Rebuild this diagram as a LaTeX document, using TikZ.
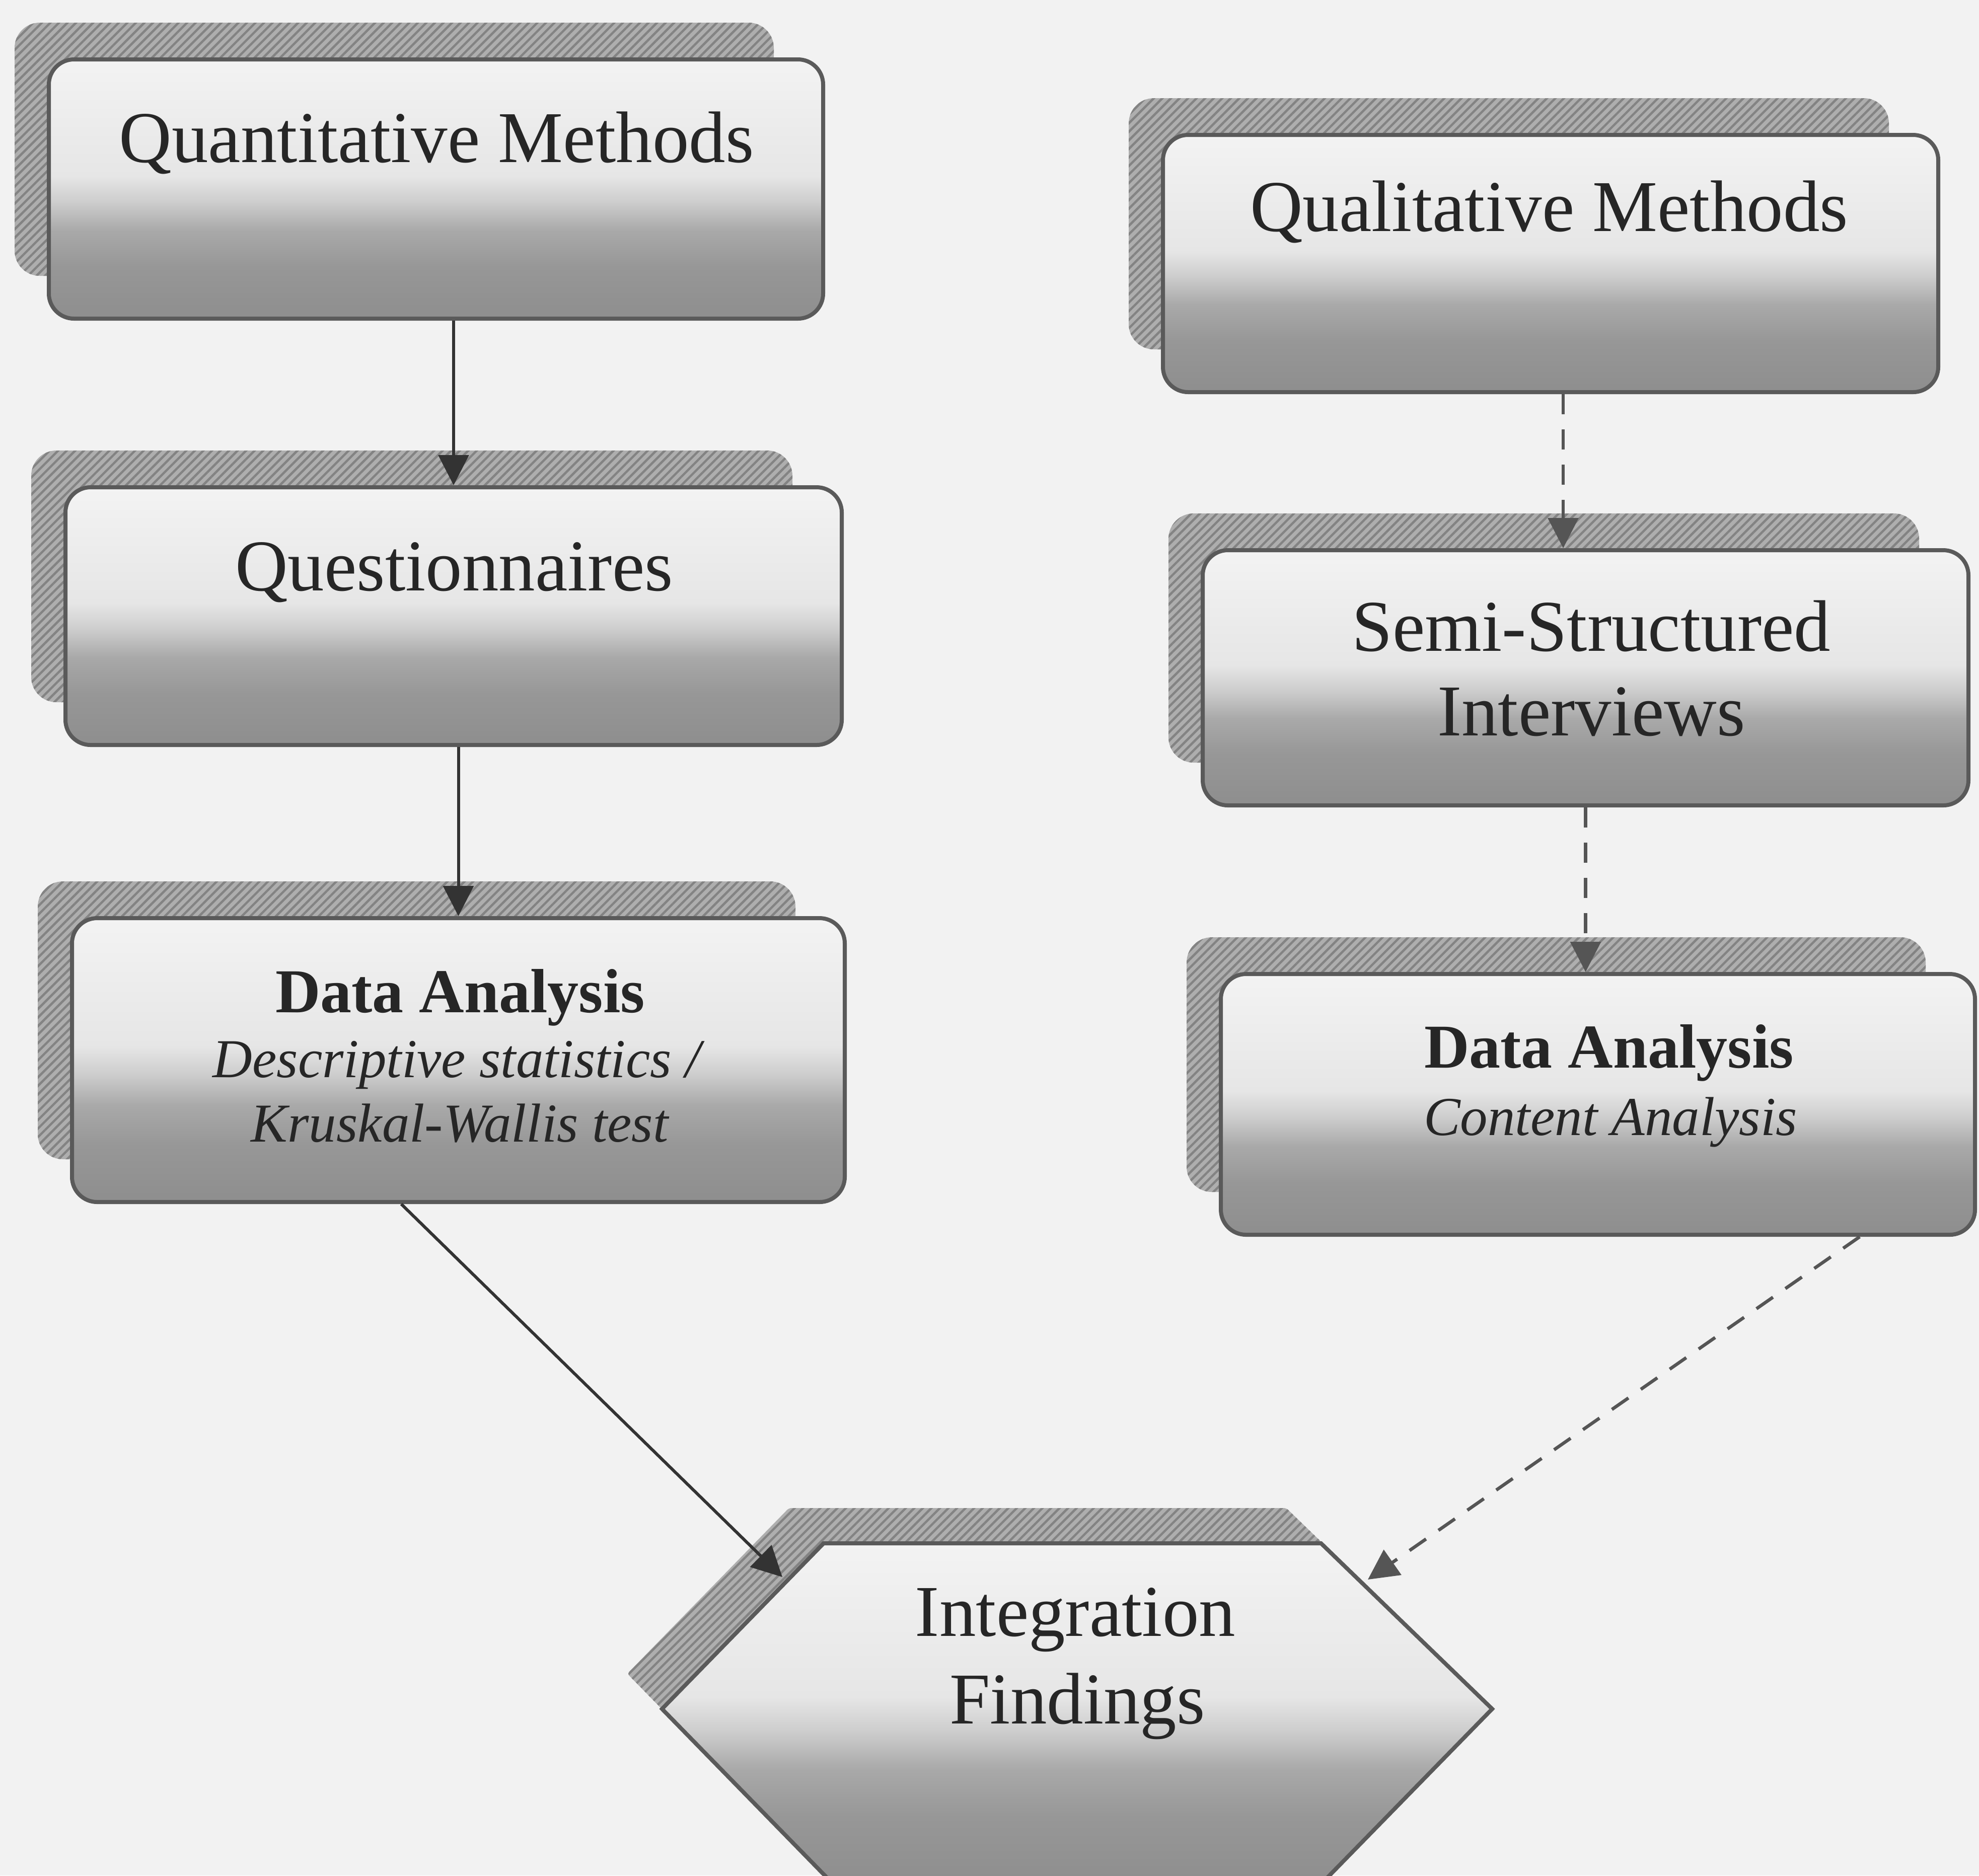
\documentclass[tikz,border=0pt]{standalone}
\usepackage{fontspec}
\setmainfont{Liberation Serif}
\usetikzlibrary{arrows.meta,calc,patterns.meta}
\definecolor{bg}{HTML}{F2F2F2}
\definecolor{shB}{HTML}{8E8E8E}
\definecolor{shC}{HTML}{979797}
\definecolor{shD}{HTML}{A9A9A9}
\definecolor{shE}{HTML}{CDCDCD}
\definecolor{shF}{HTML}{E6E6E6}
\definecolor{shT}{HTML}{F3F3F3}
\definecolor{edge}{HTML}{5A5A5A}
\definecolor{shadowfill}{HTML}{AEAEAE}
\definecolor{shadowline}{HTML}{838383}
\definecolor{ink}{HTML}{262626}
\definecolor{arrowc}{HTML}{333333}
\definecolor{dashc}{HTML}{555555}
\pgfdeclareverticalshading{boxshade}{100bp}{color(0bp)=(shB); color(25bp)=(shB); color(35bp)=(shC); color(42bp)=(shD); color(47.5bp)=(shE); color(52.5bp)=(shF); color(75bp)=(shT); color(100bp)=(shT)}
\newcommand\drawbox[5]{%
  \fill[shadowbox] (#2-6.8,#3-7.3) rectangle (#4-9.8,#5-8.5);
  \node[mainbox, minimum width={(#4-#2)*1pt}, minimum height={(#5-#3)*1pt}] (#1) at ({(#2+#4)/2},{(#3+#5)/2}) {};
}
\begin{document}
\begin{tikzpicture}[x=1pt,y=-1pt,
  mainbox/.style={draw=edge, line width=0.8pt, rounded corners=5pt, shade, shading=boxshade, inner sep=0pt, rectangle},
  shadowbox/.style={fill=shadowfill, rounded corners=5pt, postaction={pattern={Lines[angle=45,distance=1.2pt,line width=0.45pt]}, pattern color=shadowline}},
  hexbox/.style={draw=edge, line width=0.8pt, shade, shading=boxshade},
  big/.style={font=\fontsize{14.5}{17}\selectfont, text=ink, inner sep=0pt, anchor=base},
  boldt/.style={font=\fontsize{12.4}{15}\selectfont\bfseries, text=ink, inner sep=0pt, anchor=base},
  itt/.style={font=\fontsize{10.9}{13}\selectfont\itshape, text=ink, inner sep=0pt, anchor=base},
  solidarrow/.style={draw=arrowc, line width=0.6pt, -{Triangle[length=6pt,width=6pt]}},
  dasharrow/.style={draw=dashc, line width=0.65pt, dash pattern=on 4pt off 3pt, -{Triangle[length=6pt,width=6pt]}}
]
\useasboundingbox (0,0) rectangle (393.1,372.6);
\fill[bg] (0,0) rectangle (393.1,372.6);

% boxes
\drawbox{qm}{9.7}{11.8}{163.5}{63.3}
\drawbox{ql}{231.0}{26.8}{385.0}{77.9}
\drawbox{qs}{13.0}{96.8}{167.2}{148.0}
\drawbox{ss}{238.9}{109.3}{391.0}{160.0}
\drawbox{dal}{14.3}{182.4}{167.8}{238.8}
\drawbox{dar}{242.5}{193.5}{392.3}{245.3}

% hexagon
\begin{scope}[shift={(-6.9,-7.0)}]
  \fill[shadowbox, rounded corners=0.5pt] (163.6,306.6) -- (262.4,306.6) -- (296.4,339.5) -- (262.2,374.5) -- (165.7,374.5) -- (131.5,339.5) -- cycle;
\end{scope}
\coordinate (hTL) at (163.6,306.6);
\coordinate (hTR) at (262.4,306.6);
\coordinate (hR) at (296.4,339.5);
\coordinate (hBR) at (262.2,374.5);
\coordinate (hBL) at (165.7,374.5);
\coordinate (hL) at (131.5,339.5);
\path[hexbox] (hTL) -- (hTR) -- (hR) -- (hBR) -- (hBL) -- (hL) -- cycle;
\coordinate (hexA) at (155.4,313.3);
\coordinate (hexB) at (271.7,313.8);

% texts
\node[big] (qmt) at (86.7,32.2) {Quantitative Methods};
\node[big] (qlt) at (307.7,45.9) {Qualitative Methods};
\node[big] (qst) at (90.2,117.3) {Questionnaires};
\node[big] (sst1) at (316.1,129.3) {Semi-Structured};
\node[big] (sst2) at (316.1,146.1) {Interviews};
\node[boldt] (dal1) at (91.4,201.1) {Data Analysis};
\node[itt] (dal2) at (90.7,214.0) {Descriptive statistics /};
\node[itt] (dal3) at (91.3,226.8) {Kruskal-Wallis test};
\node[boldt] (dar1) at (319.6,212.1) {Data Analysis};
\node[itt] (dar2) at (319.9,225.5) {Content Analysis};
\node[big] (hx1) at (213.6,325.0) {Integration};
\node[big] (hx2) at (214.0,342.4) {Findings};

% connectors
\draw[solidarrow] (qm.south -| qs.north) -- (qs.north);
\draw[solidarrow] (qs.south -| dal.north) -- (dal.north);
\draw[solidarrow] ([xshift=-11.35pt]dal.south) -- (hexA);
\draw[dasharrow] ([xshift=2.5pt]ql.south) -- ([xshift=2.5pt]ql.south |- ss.north);
\draw[dasharrow] (ss.south) -- (ss.south |- dar.north);
\draw[dasharrow] ([xshift=52pt]dar.south) -- (hexB);
\end{tikzpicture}
\end{document}
